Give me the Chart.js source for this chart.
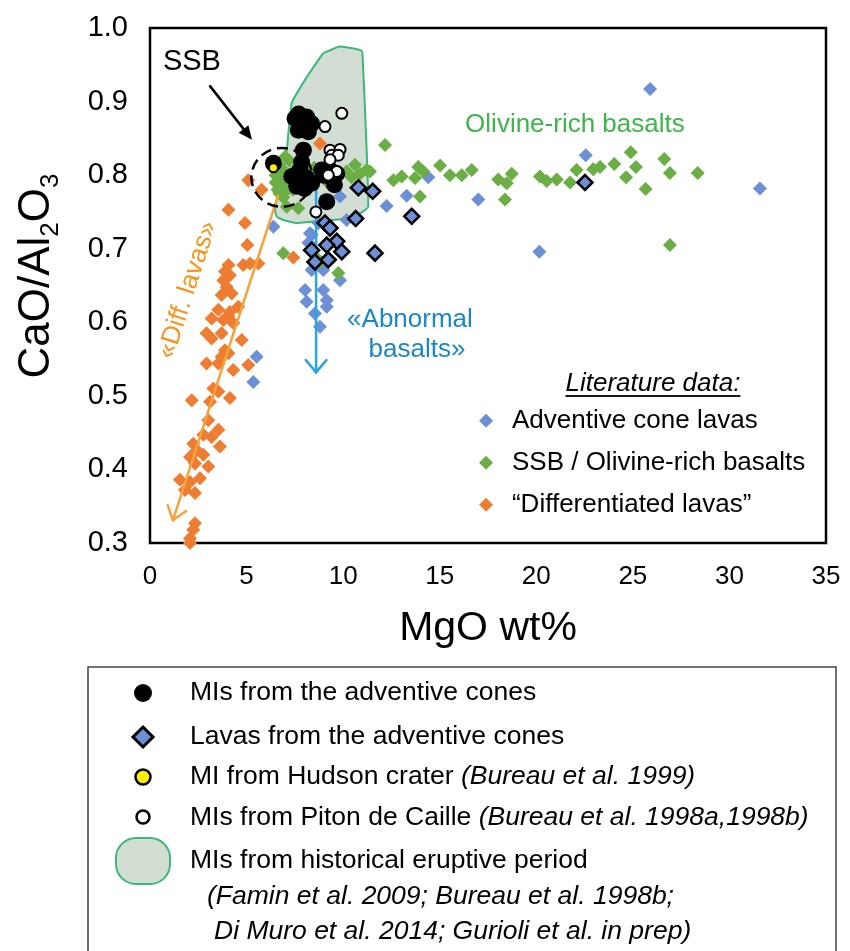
<!DOCTYPE html>
<html><head><meta charset="utf-8">
<style>html,body{margin:0;padding:0;background:#fff;overflow:hidden}#wrap{position:relative;width:850px;height:951px}</style>
<script src="https://cdn.jsdelivr.net/npm/chart.js@4.4.1/dist/chart.umd.min.js"></script>
</head><body><div id="wrap"><canvas id="c" width="850" height="951"></canvas></div>
<script>
// ---------------- DATA (MgO wt%, CaO/Al2O3) ----------------
const xTickValues = [0, 5, 10, 15, 20, 25, 30, 35];
const yTickValues = [0.3, 0.4, 0.5, 0.6, 0.7, 0.8, 0.9, 1.0];

const litAdventive = [
  [25.89,0.917],[22.56,0.827],[14.41,0.797],[13.29,0.772],[12.25,0.758],[17.00,0.767],[20.16,0.696],[31.58,0.782],
  [9.84,0.771],[6.39,0.730],[8.37,0.719],[8.72,0.735],[10.18,0.739],[8.28,0.721],[8.20,0.708],
  [8.03,0.644],[8.97,0.644],[8.11,0.628],[9.15,0.630],[9.15,0.621],[8.54,0.612],[8.80,0.594],
  [8.97,0.671],[8.37,0.671],[9.84,0.657],[5.52,0.553],[5.35,0.519]
];
const litSSB = [
  [6.5,0.80],[6.7,0.79],[6.6,0.78],[6.9,0.79],[7.1,0.78],[7.0,0.80],[6.8,0.81],[7.3,0.79],[7.5,0.80],
  [6.6,0.81],[7.2,0.82],[6.9,0.77],[7.6,0.81],[7.4,0.78],[6.7,0.775],[6.5,0.79],[7.0,0.825],
  [7.68,0.755],[7.08,0.757],[6.90,0.694],[8.80,0.682],[9.75,0.667],[8.72,0.685],[8.5,0.81],[9.2,0.79],
  [10.61,0.814],[11.22,0.807],[10.87,0.802],[10.18,0.805],[10.44,0.797],[11.39,0.805],
  [12.17,0.841],[12.60,0.793],[13.03,0.798],[13.89,0.811],[13.72,0.796],[14.15,0.805],[13.98,0.771],
  [15.02,0.813],[15.53,0.800],[16.14,0.800],[16.66,0.807],[18.03,0.794],[18.73,0.802],[18.47,0.789],
  [18.38,0.767],[20.19,0.798],[20.54,0.792],[21.06,0.794],[21.75,0.790],[22.09,0.807],[22.95,0.808],
  [23.30,0.811],[24.04,0.815],[24.89,0.831],[25.16,0.811],[24.65,0.797],[25.66,0.781],[26.63,0.822],
  [26.92,0.803],[28.36,0.803],[26.92,0.705]
];
const litDiff = [
  [4.06,0.753],[4.92,0.735],[5.04,0.705],[5.61,0.680],[5.18,0.680],[4.83,0.678],[4.06,0.678],[3.88,0.669],
  [4.14,0.664],[3.80,0.657],[3.97,0.648],[3.71,0.637],[4.23,0.639],[4.57,0.621],[4.14,0.614],[3.54,0.617],
  [3.19,0.605],[3.80,0.603],[4.31,0.599],[4.06,0.608],[2.93,0.585],[3.19,0.578],[3.71,0.585],[4.75,0.576],
  [3.88,0.562],[3.71,0.553],[4.06,0.558],[3.54,0.544],[2.93,0.544],[4.31,0.535],[5.09,0.542],[3.28,0.510],
  [3.54,0.506],[4.14,0.497],[2.16,0.494],[3.11,0.492],[3.02,0.467],[3.54,0.454],[3.19,0.444],[2.76,0.447],
  [2.24,0.435],[2.42,0.426],[3.62,0.431],[2.76,0.420],[2.07,0.417],[3.02,0.404],[2.33,0.408],[2.59,0.388],
  [1.55,0.386],[2.07,0.383],[1.81,0.372],[2.33,0.368],[2.33,0.327],[2.24,0.318],[2.07,0.306],[2.07,0.300],
  [8.80,0.843],[5.09,0.793],[5.78,0.780],[7.42,0.688]
];
const lavasAdventive = [
  [10.79,0.783],[11.53,0.778],[10.65,0.741],[13.55,0.744],[9.06,0.735],[9.32,0.728],[9.67,0.710],
  [9.15,0.705],[9.93,0.696],[8.37,0.698],[11.65,0.694],[8.54,0.682],[9.23,0.685],[22.52,0.790]
];
const misAdventive = [
  [7.51,0.877],[8.11,0.879],[7.85,0.866],[8.37,0.870],[7.68,0.861],[8.20,0.859],[7.7,0.883],
  [7.94,0.834],[7.85,0.818],[7.77,0.807],[7.34,0.798],[8.11,0.796],[8.37,0.789],[7.6,0.785],[8.0,0.782],
  [8.89,0.807],[9.32,0.807],[9.67,0.802],[9.41,0.796],[9.0,0.800],[9.55,0.787],[9.15,0.764],[6.39,0.816]
];
const misPiton = [
  [9.93,0.884],[9.06,0.866],[9.32,0.834],[9.84,0.835],[9.41,0.827],[9.75,0.827],[9.32,0.821],
  [9.67,0.805],[9.23,0.800],[8.59,0.750]
];
const miHudson = [[6.39,0.810]];
const historicalField = [
  [8.97,0.966],[9.84,0.975],[10.96,0.969],[11.01,0.961],[11.30,0.757],[10.87,0.748],[10.18,0.741],
  [7.60,0.735],[6.90,0.739],[6.56,0.744],[6.47,0.753],[7.08,0.834],[7.34,0.898],[8.11,0.933],[8.97,0.966]
];
// annotation geometry in data units
const ssbCircle = {cx:6.83, cy:0.797, rx:1.58, ry:0.040};
const diffArrow = [[6.63,0.772],[1.19,0.331]];
const abnormalArrow = [[8.60,0.793],[8.60,0.532]];
const ssbArrow = [[3.11,0.921],[5.28,0.848]];

// ---------------- STYLE ----------------
const FONT = "'Liberation Sans', Arial, Helvetica, sans-serif";
const C_BLUE = '#6c8fd6', C_GREEN = '#6aae45', C_ORANGE = '#ee7d31';
const pts = a => a.map(([x, y]) => ({x, y}));

function arrow(ctx, x1, y1, x2, y2, color, lw, len, ang, filled) {
  ctx.save();
  ctx.strokeStyle = color; ctx.fillStyle = color; ctx.lineWidth = lw; ctx.lineCap = 'round';
  const a = Math.atan2(y2 - y1, x2 - x1);
  ctx.beginPath(); ctx.moveTo(x1, y1);
  if (filled) ctx.lineTo(x2 - Math.cos(a) * len * 0.8, y2 - Math.sin(a) * len * 0.8); else ctx.lineTo(x2, y2);
  ctx.stroke();
  ctx.beginPath();
  ctx.moveTo(x2 - len * Math.cos(a - ang), y2 - len * Math.sin(a - ang));
  ctx.lineTo(x2, y2);
  ctx.lineTo(x2 - len * Math.cos(a + ang), y2 - len * Math.sin(a + ang));
  if (filled) { ctx.closePath(); ctx.fill(); } else { ctx.lineJoin = 'miter'; ctx.stroke(); }
  ctx.restore();
}
function diamond(ctx, x, y, r, fill, stroke, lw) {
  ctx.beginPath(); ctx.moveTo(x, y - r); ctx.lineTo(x + r, y); ctx.lineTo(x, y + r); ctx.lineTo(x - r, y); ctx.closePath();
  ctx.fillStyle = fill; ctx.fill();
  if (stroke) { ctx.lineWidth = lw; ctx.strokeStyle = stroke; ctx.lineJoin = 'miter'; ctx.stroke(); }
}
function circle(ctx, x, y, r, fill, stroke, lw) {
  ctx.beginPath(); ctx.arc(x, y, r, 0, Math.PI * 2); ctx.fillStyle = fill; ctx.fill();
  if (stroke) { ctx.lineWidth = lw; ctx.strokeStyle = stroke; ctx.stroke(); }
}
function runs(ctx, x, y, parts, size) {
  let cx = x;
  for (const p of parts) {
    ctx.font = (p.i ? 'italic ' : '') + size + 'px ' + FONT;
    ctx.fillText(p.t, cx, y);
    cx += ctx.measureText(p.t).width;
  }
}

const annot = {
  id: 'annot',
  beforeDatasetsDraw(chart) {
    const {ctx, chartArea: a} = chart;
    ctx.save();
    ctx.strokeStyle = '#000'; ctx.lineWidth = 2.5;
    ctx.strokeRect(a.left, a.top, a.right - a.left, a.bottom - a.top);
    ctx.restore();
  },
  afterDatasetDraw(chart, args) {
    if (chart.data.datasets[args.index].label !== 'litDiff') return;
    const {ctx, scales: {x, y}} = chart;
    const P = ([u, v]) => [x.getPixelForValue(u), y.getPixelForValue(v)];
    let [a1, b1] = P(diffArrow[0]), [a2, b2] = P(diffArrow[1]);
    arrow(ctx, a1, b1, a2, b2, '#f8a23c', 2.5, 16, 0.65, false);
    [a1, b1] = P(abnormalArrow[0]); [a2, b2] = P(abnormalArrow[1]);
    arrow(ctx, a1, b1, a2, b2, '#2aa5df', 2.5, 16, 0.7, false);
    [a1, b1] = P(ssbArrow[0]); [a2, b2] = P(ssbArrow[1]);
    arrow(ctx, a1, b1, a2, b2, '#000', 2.5, 15, 0.42, true);
    const cx = x.getPixelForValue(ssbCircle.cx), cy = y.getPixelForValue(ssbCircle.cy);
    const rx = x.getPixelForValue(ssbCircle.cx + ssbCircle.rx) - cx;
    const ry = y.getPixelForValue(ssbCircle.cy - ssbCircle.ry) - cy;
    ctx.save();
    ctx.setLineDash([11, 6]); ctx.lineWidth = 2.5; ctx.strokeStyle = '#000';
    ctx.beginPath(); ctx.ellipse(cx, cy, rx, ry, 0, 0, Math.PI * 2); ctx.stroke();
    ctx.restore();
  },
  afterDraw(chart) {
    const {ctx, scales: {x, y}} = chart;
    const X = v => x.getPixelForValue(v), Y = v => y.getPixelForValue(v);
    ctx.save();
    ctx.textBaseline = 'middle';
    ctx.textAlign = 'center';
    ctx.font = '29px ' + FONT; ctx.fillStyle = '#000';
    ctx.fillText('SSB', X(2.17), Y(0.954));
    ctx.font = '26px ' + FONT;
    ctx.fillStyle = '#3db54a';
    ctx.fillText('Olivine-rich basalts', X(22.0), Y(0.868));
    ctx.fillStyle = '#1b87c9';
    ctx.fillText('«Abnormal', X(13.46), Y(0.603));
    ctx.fillText('basalts»', X(13.82), Y(0.562));
    ctx.save();
    ctx.translate(X(1.95), Y(0.644)); ctx.rotate(-72 * Math.PI / 180);
    ctx.fillStyle = '#f7941d'; ctx.fillText('«Diff. lavas»', 0, 0);
    ctx.restore();
    ctx.fillStyle = '#000';
    ctx.font = 'italic 26px ' + FONT;
    const lt = 'Literature data:';
    const lw = ctx.measureText(lt).width, lx = X(26.04), ly = Y(0.516);
    ctx.fillText(lt, lx, ly);
    ctx.fillRect(lx - lw / 2, ly + 11, lw, 1.8);
    ctx.textAlign = 'left'; ctx.font = '26px ' + FONT;
    const items = [[C_BLUE, 'Adventive cone lavas', 0.466], [C_GREEN, 'SSB / Olivine-rich basalts', 0.409], [C_ORANGE, '\u201CDifferentiated lavas\u201D', 0.352]];
    for (const [c, t, v] of items) {
      diamond(ctx, X(17.40), Y(v), 7, c);
      ctx.fillStyle = '#000'; ctx.fillText(t, X(18.74), Y(v));
    }
    // y axis title with subscripts
    ctx.save();
    ctx.translate(33, 276); ctx.rotate(-Math.PI / 2);
    ctx.textBaseline = 'alphabetic'; ctx.fillStyle = '#000';
    const segs = [['CaO/Al', 44, 0], ['2', 26, 9], ['O', 44, 0], ['3', 26, 9]];
    let tw = 0;
    for (const [t, s] of segs) { ctx.font = s + 'px ' + FONT; tw += ctx.measureText(t).width; }
    let px = -tw / 2;
    for (const [t, s, dy] of segs) { ctx.font = s + 'px ' + FONT; ctx.fillText(t, px, 15.5 + dy); px += ctx.measureText(t).width; }
    ctx.restore();
    // bottom legend box
    ctx.strokeStyle = '#444'; ctx.lineWidth = 1.5;
    ctx.strokeRect(88, 667, 748, 400);
    circle(ctx, 143, 693, 9, '#000');
    diamond(ctx, 143, 737, 10, C_BLUE, '#000', 3);
    circle(ctx, 143, 777, 7.5, '#ffee00', '#000', 2.5);
    circle(ctx, 143, 817, 6.5, '#fff', '#000', 2.5);
    ctx.beginPath(); ctx.roundRect(116, 838, 54, 46, 20);
    ctx.fillStyle = '#d3ded3'; ctx.fill(); ctx.strokeStyle = '#3cb878'; ctx.lineWidth = 2; ctx.stroke();
    ctx.fillStyle = '#000'; ctx.textAlign = 'left'; ctx.textBaseline = 'middle';
    runs(ctx, 190, 693, [{t: 'MIs from the adventive cones'}], 26.5);
    runs(ctx, 190, 737, [{t: 'Lavas from the adventive cones'}], 26.5);
    runs(ctx, 190, 777, [{t: 'MI from Hudson crater '}, {t: '(Bureau et al. 1999)', i: 1}], 26.5);
    runs(ctx, 190, 818, [{t: 'MIs from Piton de Caille '}, {t: '(Bureau et al. 1998a,1998b)', i: 1}], 26.5);
    runs(ctx, 190, 861, [{t: 'MIs from historical eruptive period'}], 26.5);
    runs(ctx, 207, 897, [{t: '(Famin et al. 2009; Bureau et al. 1998b;', i: 1}], 26.5);
    runs(ctx, 214, 932, [{t: 'Di Muro et al. 2014; Gurioli et al. in prep)', i: 1}], 26.5);
    ctx.restore();
  }
};

const tickFont = s => ({family: FONT, size: s});
new Chart(document.getElementById('c'), {
  type: 'scatter',
  data: {
    datasets: [
      {label: 'miHudson', data: pts(miHudson), pointStyle: 'circle', pointRadius: 4.5, backgroundColor: '#ffee00', borderColor: '#000', borderWidth: 2, order: 1, clip: false},
      {label: 'misPiton', data: pts(misPiton), pointStyle: 'circle', pointRadius: 5.5, backgroundColor: '#fff', borderColor: '#000', borderWidth: 2, order: 2, clip: false},
      {label: 'misAdventive', data: pts(misAdventive), pointStyle: 'circle', pointRadius: 8.5, backgroundColor: '#000', borderWidth: 0, order: 3, clip: false},
      {label: 'lavasAdventive', data: pts(lavasAdventive), pointStyle: 'rectRot', pointRadius: 7.5, backgroundColor: C_BLUE, borderColor: '#000', borderWidth: 2.5, order: 4, clip: false},
      {label: 'litDiff', data: pts(litDiff), pointStyle: 'rectRot', pointRadius: 7, backgroundColor: C_ORANGE, borderWidth: 0, order: 6, clip: false},
      {label: 'litSSB', data: pts(litSSB), pointStyle: 'rectRot', pointRadius: 7, backgroundColor: C_GREEN, borderWidth: 0, order: 7, clip: false},
      {label: 'litAdventive', data: pts(litAdventive), pointStyle: 'rectRot', pointRadius: 7, backgroundColor: C_BLUE, borderWidth: 0, order: 8, clip: false},
      {label: 'historical', data: pts(historicalField), showLine: true, fill: 'shape', tension: 0.15, pointRadius: 0,
       backgroundColor: 'rgba(205,218,206,0.9)', borderColor: '#3cb878', borderWidth: 2, order: 9}
    ]
  },
  options: {
    responsive: false, animation: false, events: [],
    layout: {padding: {left: 0, top: 28, right: 24, bottom: 298}},
    plugins: {legend: {display: false}, tooltip: {enabled: false}},
    scales: {
      x: {
        type: 'linear', min: 0, max: 35,
        afterBuildTicks: s => { s.ticks = xTickValues.map(v => ({value: v})); },
        ticks: {font: tickFont(26), color: '#000', padding: 18, callback: v => String(v)},
        grid: {display: false, drawTicks: false}, border: {display: false},
        title: {display: true, text: 'MgO wt%', color: '#000', font: {family: FONT, size: 41}, padding: {top: 0, bottom: 0}},
        afterFit: s => { s.height = 110; s.paddingLeft = 0; s.paddingRight = 0; }
      },
      y: {
        type: 'linear', min: 0.3, max: 1.0,
        afterBuildTicks: s => { s.ticks = yTickValues.map(v => ({value: v})); },
        ticks: {font: tickFont(29), color: '#000', padding: 22, callback: v => v.toFixed(1)},
        grid: {display: false, drawTicks: false}, border: {display: false},
        afterFit: s => { s.width = 150; s.paddingTop = 0; s.paddingBottom = 0; }
      }
    }
  },
  plugins: [annot]
});
</script></body></html>
